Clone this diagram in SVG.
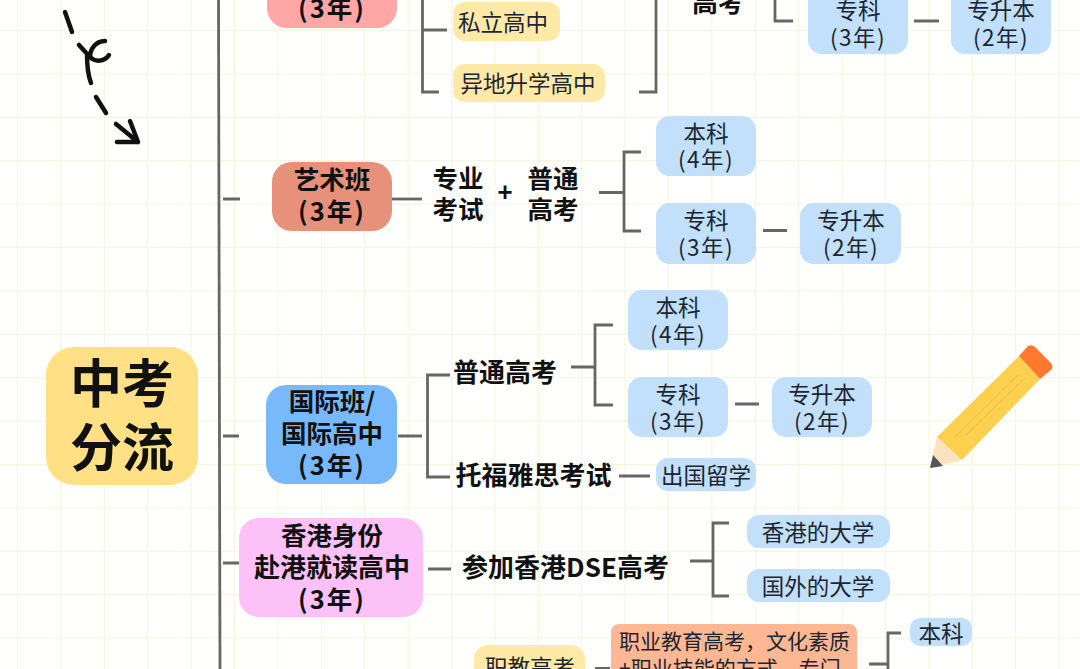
<svg xmlns="http://www.w3.org/2000/svg" width="1080" height="669" viewBox="0 0 1080 669">
<style>
text{font-family:"Noto Sans CJK SC","Noto Sans",sans-serif;text-anchor:middle;fill:#1c2530}
.b{font-weight:700;font-size:25.5px;fill:#111}
.h{font-weight:700;font-size:26px;fill:#111}
.n{font-size:22.5px}
.p{letter-spacing:1.500px}
.o{font-size:21px;text-anchor:start}
.c{fill:none;stroke:#666;stroke-width:2.8}
.blue{fill:#c2e0fb}
.yel{fill:#ffe9a6}
.ink{fill:none;stroke:#111;stroke-width:4.5;stroke-linecap:round;stroke-linejoin:round}
</style>
<defs>
<pattern id="grid" width="43.4" height="43.4" x="17" y="30" patternUnits="userSpaceOnUse">
<path d="M0 0H43.4M0 0V43.4" fill="none" stroke="#f4f5dc" stroke-width="2"/>
</pattern>
</defs>
<rect width="1080" height="669" fill="#fffffd"/>
<rect width="1080" height="669" fill="url(#grid)"/>

<g id="connectors" class="c">
<path d="M218.500 -2L220 671"/>
<path d="M223 199H240M223 436H239M223 563H239"/>
<path d="M447 30H422.500M422.500 -2V92H439"/>
<path d="M639 92H656V-2"/>
<path d="M775 -2V21H793M914 21H939"/>
<path d="M392 199H422"/>
<path d="M599 192.500H624M641 152H624V231H641M763 230.500H787"/>
<path d="M398 436H422M450 375H427.500V477H450"/>
<path d="M571 367H595M613 325H595V405H613M735 404H759M619 476H650"/>
<path d="M428 569H451M690 561H713M729 523H713V596H729"/>
<path d="M595 668.500H610M869 664H888M901 633H888V671"/>
</g>

<g id="art-arrow" class="ink">
<path d="M65 12L72 32"/>
<path d="M79 45L90 57M105 41C95 41 90 50 90 57C96 63 105 61 109 55M87 55C87 65 88 75 91 83"/>
<path d="M96 97L106 113"/>
<path d="M116 124L138 142M130 121L138 142H117"/>
</g>

<g id="pencil">
<path d="M937 437L930 468L962 460Z" fill="#fde2c0"/>
<path d="M933 455L930 468L943 466Z" fill="#555"/>
<path d="M937 437L1019 356L1040 379L962 460Z" fill="#fbd04f"/>
<path d="M955 437L1018 375M966 435L1025 378" stroke="#eebc3c" stroke-width="1" fill="none"/>
<path d="M1019 356L1028 346Q1032 344 1035 347L1051 363Q1054 367 1051 370L1040 379Z" fill="#ff7a2e"/>
</g>

<g id="root"><rect x="46" y="347" width="152" height="138" rx="28" fill="#ffe084"/>
<text x="122" y="403" font-size="52" font-weight="700" style="fill:#111">中考</text>
<text x="122" y="467" font-size="52" font-weight="700" style="fill:#111">分流</text></g>

<g id="n-top"><rect x="267" y="-60" width="130" height="88" rx="20" fill="#ffa6a6"/>
<text class="b" x="332" y="18" letter-spacing="2">(3年)</text></g>

<g id="n-private"><rect class="yel" x="453" y="2" width="107" height="39" rx="12"/><text class="n" x="503" y="31">私立高中</text></g>
<g id="n-remote"><rect class="yel" x="453" y="64" width="152" height="38" rx="12"/><text class="n" x="528" y="92">异地升学高中</text></g>
<g id="n-gk0"><text class="h" x="718" y="12">高考</text></g>
<g id="n-zk0"><rect class="blue" x="808" y="-20" width="100" height="74" rx="14"/><text class="n" x="858" y="19">专科</text><text class="n p" x="858" y="46">(3年)</text></g>
<g id="n-zsb0"><rect class="blue" x="951" y="-20" width="100" height="74" rx="14"/><text class="n" x="1001" y="19">专升本</text><text class="n p" x="1001" y="46">(2年)</text></g>

<g id="n-art"><rect x="272" y="162" width="120" height="69" rx="20" fill="#e8917a"/>
<text class="b" x="332" y="189">艺术班</text><text class="b" x="332" y="221" letter-spacing="2">(3年)</text></g>
<g id="n-art-exam"><text class="b" x="458" y="188">专业</text><text class="b" x="458" y="219">考试</text></g>
<g id="n-plus"><text class="b" x="505" y="202">+</text></g>
<g id="n-art-gk"><text class="b" x="553" y="188">普通</text><text class="b" x="553" y="219">高考</text></g>
<g id="n-bk1"><rect class="blue" x="656" y="116" width="100" height="60" rx="14"/><text class="n" x="706" y="142">本科</text><text class="n p" x="706" y="168">(4年)</text></g>
<g id="n-zk1"><rect class="blue" x="656" y="203" width="100" height="61" rx="14"/><text class="n" x="706" y="229">专科</text><text class="n p" x="706" y="256">(3年)</text></g>
<g id="n-zsb1"><rect class="blue" x="800" y="203" width="101" height="61" rx="14"/><text class="n" x="851" y="229">专升本</text><text class="n p" x="851" y="256">(2年)</text></g>

<g id="n-intl"><rect x="266" y="385" width="131" height="99" rx="20" fill="#78b9fb"/>
<text class="b" x="332" y="411">国际班/</text><text class="b" x="332" y="443">国际高中</text><text class="b" x="332" y="475" letter-spacing="2">(3年)</text></g>
<g id="n-intl-gk"><text class="h" x="505" y="382">普通高考</text></g>
<g id="n-toefl"><text class="h" x="533.500" y="485">托福雅思考试</text></g>
<g id="n-bk2"><rect class="blue" x="628" y="290" width="100" height="60" rx="14"/><text class="n" x="678" y="316">本科</text><text class="n p" x="678" y="343">(4年)</text></g>
<g id="n-zk2"><rect class="blue" x="628" y="377" width="100" height="60" rx="14"/><text class="n" x="678" y="403">专科</text><text class="n p" x="678" y="430">(3年)</text></g>
<g id="n-zsb2"><rect class="blue" x="772" y="377" width="100" height="60" rx="14"/><text class="n" x="822" y="403">专升本</text><text class="n p" x="822" y="430">(2年)</text></g>
<g id="n-abroad"><rect class="blue" x="656" y="458" width="100" height="33" rx="12"/><text class="n" x="706" y="484">出国留学</text></g>

<g id="n-hk"><rect x="239" y="518" width="184" height="99" rx="20" fill="#fcc2f8"/>
<text class="b" x="332" y="545">香港身份</text><text class="h" x="332" y="577">赴港就读高中</text><text class="b" x="332" y="609" letter-spacing="2">(3年)</text></g>
<g id="n-dse"><text class="h" x="565.500" y="577">参加香港DSE高考</text></g>
<g id="n-hku"><rect class="blue" x="747" y="515" width="143" height="33" rx="12"/><text class="n" x="818" y="541">香港的大学</text></g>
<g id="n-abroadu"><rect class="blue" x="747" y="569" width="143" height="33" rx="12"/><text class="n" x="818" y="595">国外的大学</text></g>

<g id="n-vocgk"><rect class="yel" x="474" y="645" width="111" height="60" rx="14"/><text class="n" x="530" y="676">职教高考</text></g>
<g id="n-vocdesc"><rect x="611" y="624" width="246" height="70" rx="8" fill="#fdb893"/><text class="o" x="619" y="649">职业教育高考，文化素质</text><text class="o" x="619" y="676">+职业技能的方式，专门</text></g>
<g id="n-bk3"><rect class="blue" x="910" y="618" width="62" height="28" rx="10"/><text class="n" x="941" y="642">本科</text></g>
</svg>
